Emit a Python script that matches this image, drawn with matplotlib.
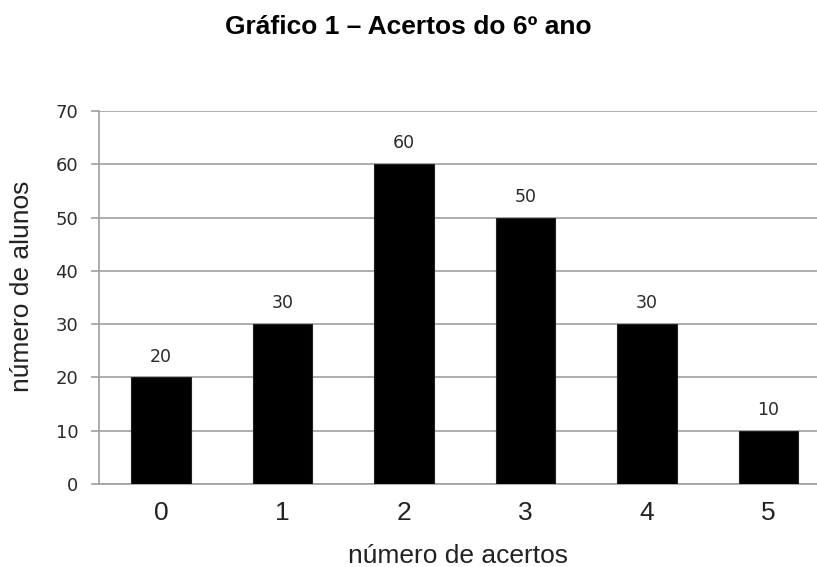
import matplotlib
matplotlib.use("Agg")
import matplotlib.pyplot as plt

categorias = ["0", "1", "2", "3", "4", "5"]
alunos = [20, 30, 60, 50, 30, 10]
y_ticks = [0, 10, 20, 30, 40, 50, 60, 70]

titulo = "Gráfico 1 – Acertos do 6º ano"
x_rotulo = "número de acertos"
y_rotulo = "número de alunos"

plt.rcParams['font.family'] = ['Liberation Sans', 'DejaVu Sans']

fig = plt.figure(figsize=(8.17, 5.67), dpi=100)
ax = fig.add_axes([99/817, 83/567, 1 - 99/817, (484-111)/567])

x = list(range(len(categorias)))
bars = ax.bar(x, alunos, width=0.49, color='black', edgecolor='#222222', linewidth=0.8, zorder=3)

for xi, v in zip(x, alunos):
    ax.annotate(str(v), (xi, v), xytext=(0, 15), textcoords='offset points',
                ha='center', va='center', fontsize=12.5, color='#2a2a2a',
                family='DejaVu Sans')

ax.set_xlim(-0.51, 5.4)
ax.set_ylim(0, 70)
ax.set_yticks(y_ticks)
ax.set_yticklabels([str(t) for t in y_ticks], family='DejaVu Sans', fontsize=13, color='#2a2a2a')
ax.set_xticks(x)
ax.set_xticklabels(categorias, fontsize=19, color='#222222')

ax.yaxis.grid(True, color='#a0a0a0', linewidth=1.2, zorder=0)
ax.set_axisbelow(True)
for s in ['top', 'right']:
    ax.spines[s].set_visible(False)
for s in ['left', 'bottom']:
    ax.spines[s].set_color('#a0a0a0')
    ax.spines[s].set_linewidth(1.2)

ax.tick_params(axis='y', length=6, width=1.2, color='#a0a0a0', pad=9)
ax.tick_params(axis='x', length=0, pad=12)

ax.set_xlabel(x_rotulo, fontsize=19, color='#222222', labelpad=14)
ax.set_ylabel(y_rotulo, fontsize=19, color='#222222')
ax.yaxis.set_label_coords(-65/718, 0.53)

fig.text(0.5, 1 - 27/567, titulo, ha='center', va='center', fontsize=19,
         fontweight='bold', color='black')

fig.savefig("out.png", dpi=100)
